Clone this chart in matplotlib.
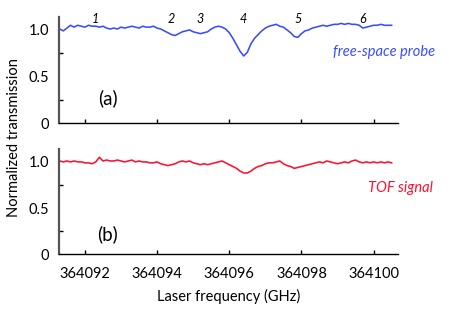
import numpy as np
import matplotlib
matplotlib.use("Agg")
import matplotlib.pyplot as plt
from matplotlib.ticker import FixedLocator

plt.rcParams['font.family'] = ['Lato', 'DejaVu Sans']

# laser frequency sampling (GHz), 0.1 GHz step
freq = np.round(np.arange(364091.3, 364100.55, 0.1), 1)

# (a) free-space probe transmission
probe = [1.01, 0.99, 1.02, 1.05, 1.03, 1.05, 1.04, 1.03, 1.05, 1.04,
         1.04, 1.03, 1.04, 1.02, 1.01, 1.02, 1.01, 1.03, 1.02, 1.03,
         1.04, 1.03, 1.02, 1.04, 1.03, 1.03, 1.04, 1.02, 1.01, 0.99,
         0.97, 0.95, 0.94, 0.96, 0.98, 0.99, 1.00, 0.98, 0.97, 0.96,
         0.97, 0.98, 1.01, 1.03, 1.04, 1.03, 1.01, 0.97, 0.91, 0.84,
         0.77, 0.72, 0.76, 0.85, 0.91, 0.95, 0.99, 1.02, 1.04, 1.05,
         1.06, 1.04, 1.03, 1.00, 0.97, 0.93, 0.92, 0.96, 0.99, 1.00,
         1.02, 1.03, 1.04, 1.05, 1.04, 1.05, 1.06, 1.06, 1.07, 1.06,
         1.07, 1.06, 1.06, 1.05, 1.02, 1.03, 1.04, 1.05, 1.05, 1.06,
         1.05, 1.05, 1.05]

# (b) TOF signal
tof = [1.01, 1.00, 1.01, 1.00, 1.01, 1.00, 1.00, 0.99, 0.99, 0.98,
       1.00, 1.05, 1.01, 1.02, 1.01, 1.01, 1.02, 1.01, 1.00, 1.01,
       1.02, 1.00, 1.01, 1.00, 1.00, 0.99, 0.99, 1.00, 0.98, 0.97,
       0.96, 0.97, 0.98, 1.00, 1.01, 1.00, 1.01, 0.99, 0.98, 0.97,
       0.98, 0.97, 0.98, 0.99, 1.00, 1.01, 0.99, 0.97, 0.95, 0.93,
       0.90, 0.88, 0.88, 0.90, 0.93, 0.95, 0.96, 0.98, 0.99, 0.99,
       1.00, 1.01, 0.98, 0.96, 0.95, 0.93, 0.94, 0.95, 0.96, 0.97,
       0.98, 0.99, 1.00, 0.99, 1.01, 1.00, 0.99, 0.98, 0.99, 1.00,
       0.99, 1.01, 1.02, 1.00, 0.99, 1.00, 0.99, 1.00, 0.99, 1.00,
       0.99, 1.00, 0.99]

peak_labels = ['1', '2', '3', '4', '5', '6']
peak_freqs = [364092.3, 364094.4, 364095.2, 364096.4, 364097.9, 364099.7]

xticks = [364092, 364094, 364096, 364098, 364100]
blue = '#3a4cff'
red = '#ff1030'

fig = plt.figure(figsize=(4.5, 3.13), dpi=100)
ax_a = fig.add_axes([0.131, 0.607, 0.753, 0.339])
ax_b = fig.add_axes([0.131, 0.188, 0.753, 0.336])


def style(ax):
    ax.set_xlim(364091.28, 364100.67)
    ax.set_ylim(0, 1.14)
    for s in ['top', 'right']:
        ax.spines[s].set_visible(False)
    ax.spines['left'].set_color('#555555')
    ax.spines['left'].set_linewidth(1.6)
    ax.spines['bottom'].set_linewidth(1.0)
    ax.set_yticks([0, 0.5, 1.0])
    ax.set_yticklabels(['0', '0.5', '1.0'])
    ax.yaxis.set_minor_locator(FixedLocator([0.25, 0.75]))
    ax.tick_params(axis='y', which='major', length=0, pad=7, labelsize=10.5)
    ax.tick_params(axis='y', which='minor', direction='in', length=3, width=1)
    ax.set_xticks(xticks)
    ax.tick_params(axis='x', direction='in', length=3, width=1, labelsize=10.5, pad=9)


style(ax_a)
style(ax_b)

ax_a.plot(freq, probe, color=blue, lw=1.15)
ax_a.set_xticklabels([])
for lab, f in zip(peak_labels, peak_freqs):
    ax_a.text(f, 1.12, lab, style='italic', fontsize=9, ha='center', va='center')
ax_a.text(364098.87, 0.76, 'free-space probe', color=blue, style='italic', fontsize=10.5, ha='left', va='center', clip_on=False)
ax_a.text(364092.63, 0.27, '(a)', fontsize=13.5, ha='center', va='center')

ax_b.plot(freq, tof, color=red, lw=1.15)
ax_b.set_xticklabels([str(t) for t in xticks])
ax_b.text(364099.84, 0.72, 'TOF signal', color=red, style='italic', fontsize=10.5, ha='left', va='center', clip_on=False)
ax_b.text(364092.63, 0.22, '(b)', fontsize=13.5, ha='center', va='center')
ax_b.set_xlabel('Laser frequency (GHz)', fontsize=10.5, labelpad=6)

fig.text(0.032, 0.56, 'Normalized transmission', rotation=90, fontsize=10.5, ha='center', va='center')

fig.savefig('out.png', dpi=100)
